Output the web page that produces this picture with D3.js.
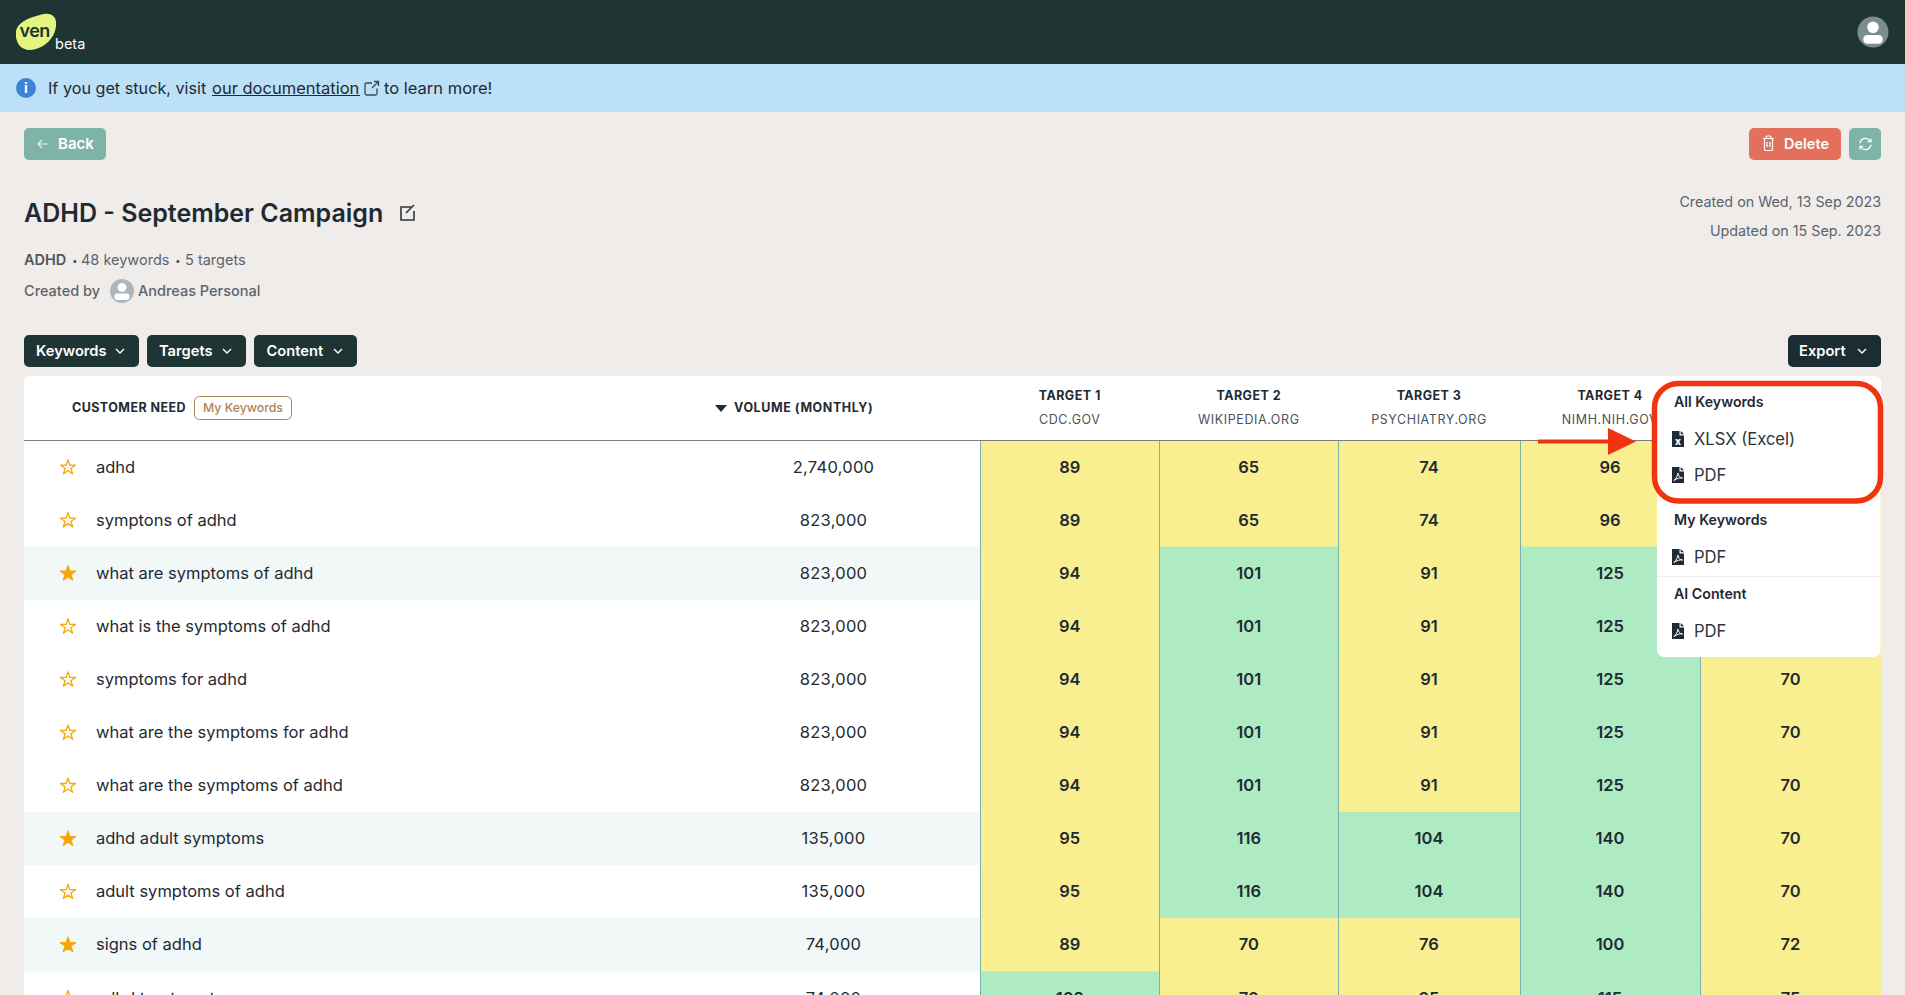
<!DOCTYPE html>
<html>
<head>
<meta charset="utf-8">
<script src="https://cdn.jsdelivr.net/npm/d3@7"></script>
<style>
  html, body { margin: 0; padding: 0; background: #f0ecea; overflow: hidden; }
  svg { display: block; }
  text { font-family: Inter, "Noto Sans", sans-serif; fill: #1f2a33; }
</style>
</head>
<body>
<div id="page"></div>
<script>
// table values
var keywords = ["adhd", "symptons of adhd", "what are symptoms of adhd", "what is the symptoms of adhd",
  "symptoms for adhd", "what are the symptoms for adhd", "what are the symptoms of adhd",
  "adhd adult symptoms", "adult symptoms of adhd", "signs of adhd", "adhd treatment"];
var volumes = [2740000, 823000, 823000, 823000, 823000, 823000, 823000, 135000, 135000, 74000, 74000];
var starred = [false, false, true, false, false, false, false, true, false, true, false];
var targets = ["TARGET 1", "TARGET 2", "TARGET 3", "TARGET 4", "TARGET 5"];
var domains = ["CDC.GOV", "WIKIPEDIA.ORG", "PSYCHIATRY.ORG", "NIMH.NIH.GOV", "HEALTHLINE.COM"];
var target1 = [89, 89, 94, 94, 94, 94, 94, 95, 95, 89, 102];
var target2 = [65, 65, 101, 101, 101, 101, 101, 116, 116, 70, 70];
var target3 = [74, 74, 91, 91, 91, 91, 91, 104, 104, 76, 85];
var target4 = [96, 96, 125, 125, 125, 125, 125, 140, 140, 100, 115];
var target5 = [70, 70, 70, 70, 70, 70, 70, 70, 70, 72, 75];
var scores = [target1, target2, target3, target4, target5];
var goodScore = 100;

var W = 1905, H = 995;
var svg = d3.select("#page").append("svg").attr("width", W).attr("height", H);

var x = d3.scaleLinear().domain(d3.range(6)).range([980, 1159.5, 1338, 1520, 1700, 1881]);
var y = d3.scaleBand().domain(keywords).range([440.5, 440.5 + 53.07 * keywords.length]);
var cellColor = d3.scaleThreshold().domain([goodScore]).range(["#f9ef90", "#aeebc2"]);

function label(parent, px, py, str, o) {
  o = o || {};
  return parent.append("text")
    .attr("x", px).attr("y", py)
    .attr("dy", "0.35em")
    .attr("text-anchor", o.anchor || "start")
    .style("font-size", (o.size || 15) + "px")
    .style("font-weight", o.weight || 400)
    .style("letter-spacing", o.spacing || null)
    .style("fill", o.color || "#1f2a33")
    .text(str);
}

function box(parent, bx, by, bw, bh, color, r) {
  return parent.append("rect").attr("x", bx).attr("y", by).attr("width", bw).attr("height", bh)
    .attr("rx", r === undefined ? 5 : r).attr("fill", color);
}

function chevron(px, py, color) {
  svg.append("path").attr("d", "M" + (px - 4) + "," + (py - 2) + "l4,4l4,-4")
    .attr("fill", "none").attr("stroke", color || "#fff").attr("stroke-width", 1.4);
}

function avatar(cx, cy, r, bg) {
  svg.append("circle").attr("cx", cx).attr("cy", cy).attr("r", r).attr("fill", bg);
  svg.append("circle").attr("cx", cx).attr("cy", cy - r * 0.3).attr("r", r * 0.37).attr("fill", "#fff");
  svg.append("rect").attr("x", cx - r * 0.63).attr("y", cy + r * 0.2).attr("width", r * 1.26).attr("height", r * 0.55)
    .attr("rx", r * 0.27).attr("fill", "#fff");
}

// top bar
box(svg, 0, 0, W, 64, "#1e3534", 0);
box(svg, 0, 64, W, 48, "#bbe0f7", 0);
svg.append("path")
  .attr("d", "M16,32C17,22 30,17 44,14C53,13 57,18 56,26C55,38 44,49 30,50C20,50 15,42 16,32Z")
  .attr("fill", "#e3f57f");
label(svg, 19.5, 31, "ven", { size: 18, weight: 600, color: "#1e3534", spacing: "-0.5px" });
label(svg, 55, 44, "beta", { size: 14.5, color: "#fff" });
avatar(1873, 32, 15.5, "#7b8d8d");

// info banner
svg.append("circle").attr("cx", 26).attr("cy", 88).attr("r", 10).attr("fill", "#3b84d8");
label(svg, 26, 88.5, "i", { size: 14, weight: 700, color: "#fff", anchor: "middle" });
label(svg, 48, 88, "If you get stuck, visit", { size: 16.2 });
label(svg, 212, 88, "our documentation", { size: 16.5 });
svg.append("line").attr("x1", 212).attr("x2", 360).attr("y1", 95.5).attr("y2", 95.5).attr("stroke", "#1f2a33").attr("stroke-width", 1);
svg.append("path").attr("d", "M372,83h-5.5a1.5,1.5 0 0 0 -1.5,1.5v9a1.5,1.5 0 0 0 1.5,1.5h9a1.5,1.5 0 0 0 1.5,-1.5v-5M372,88l6.5,-6.5M374,81.5h4.5v4.5")
  .attr("fill", "none").attr("stroke", "#3c474f").attr("stroke-width", 1.3);
label(svg, 384, 88, "to learn more!", { size: 16.5 });

// buttons
box(svg, 24, 128, 82, 32, "#7eb3a7");
svg.append("path").attr("d", "M48,144h-10m4,-4l-4,4l4,4").attr("fill", "none").attr("stroke", "#e8f2ef").attr("stroke-width", 1.2);
label(svg, 58, 144, "Back", { size: 15, weight: 600, color: "#fff" });
box(svg, 1749, 128, 92, 32, "#e2705b");
svg.append("path").attr("d", "M1763,138.5h11M1766,138.5v-1.5a1,1 0 0 1 1,-1h3a1,1 0 0 1 1,1v1.5M1764.5,138.5v11a1,1 0 0 0 1,1h6a1,1 0 0 0 1,-1v-11M1767,142v5M1770,142v5")
  .attr("fill", "none").attr("stroke", "#fff").attr("stroke-width", 1.2);
label(svg, 1784, 144, "Delete", { size: 14.5, weight: 600, color: "#fff" });
box(svg, 1849, 128, 32, 32, "#7eb3a7");
svg.append("path").attr("transform", "translate(1865.5,144) scale(0.78)")
  .attr("d", "M-7,-1a7,7 0 0 1 12,-4l2,2M7,-7v4h-4M7,1a7,7 0 0 1 -12,4l-2,-2M-7,7v-4h4")
  .attr("fill", "none").attr("stroke", "#fff").attr("stroke-width", 1.6);

// title block
label(svg, 24, 213, "ADHD - September Campaign", { size: 25, weight: 600 });
svg.append("path").attr("d", "M411,207h-10v13h13v-9M406,213l8,-8")
  .attr("fill", "none").attr("stroke", "#2c363e").attr("stroke-width", 1.6);
label(svg, 24, 260, "ADHD", { size: 14.5, weight: 600, color: "#4f575e" });
label(svg, 72, 260, "•", { size: 10, color: "#4f575e" });
label(svg, 81, 260, "48 keywords", { size: 14.5, color: "#5c646b" });
label(svg, 175, 260, "•", { size: 10, color: "#4f575e" });
label(svg, 185, 260, "5 targets", { size: 14.5, color: "#5c646b" });
label(svg, 24, 291, "Created by", { size: 14.5, weight: 500, color: "#5c646b" });
avatar(122, 291, 12, "#aeb6bd");
label(svg, 138, 291, "Andreas Personal", { size: 14.5, weight: 500, color: "#5c646b" });
label(svg, 1881, 202, "Created on Wed, 13 Sep 2023", { size: 14.3, color: "#5c646b", anchor: "end" });
label(svg, 1881, 231, "Updated on 15 Sep. 2023", { size: 14.3, color: "#5c646b", anchor: "end" });

// toolbar
var toolbar = [
  { name: "Keywords", x0: 24, x1: 139, tx: 36, cx: 120, bg: "#1e3534" },
  { name: "Targets", x0: 147, x1: 246, tx: 159, cx: 227, bg: "#1e3534" },
  { name: "Content", x0: 254, x1: 357, tx: 266.5, cx: 338, bg: "#1e3534" },
  { name: "Export", x0: 1788, x1: 1881, tx: 1799, cx: 1862, bg: "#1b2c33" }
];
toolbar.forEach(function (b) {
  box(svg, b.x0, 335, b.x1 - b.x0, 32, b.bg);
  label(svg, b.tx, 351, b.name, { size: 14.7, weight: 600, color: "#fff" });
  chevron(b.cx, 351);
});

// table card
var clip = svg.append("clipPath").attr("id", "card");
clip.append("rect").attr("x", 24).attr("y", 376).attr("width", 1857).attr("height", 700).attr("rx", 6);
var card = svg.append("g").attr("clip-path", "url(#card)");
box(card, 24, 376, 1857, 700, "#fff", 0);

label(card, 72, 408, "CUSTOMER NEED", { size: 12.5, weight: 700, spacing: "0.43px" });
card.append("rect").attr("x", 194.5).attr("y", 396.5).attr("width", 97).attr("height", 23).attr("rx", 5)
  .attr("fill", "#fff").attr("stroke", "#b08356");
label(card, 243, 408, "My Keywords", { size: 12.3, weight: 500, color: "#ae8351", anchor: "middle" });
card.append("path").attr("d", "M715,405h12l-6,7z").attr("fill", "#1f2a33");
label(card, 734, 408, "VOLUME (MONTHLY)", { size: 12.5, weight: 700, spacing: "0.57px" });

// target headers
targets.forEach(function (t, i) {
  var mid = (x(i) + x(i + 1)) / 2;
  label(card, mid, 396, t, { size: 12.5, weight: 700, spacing: "0.45px", anchor: "middle" });
  label(card, mid, 420, domains[i], { size: 12.5, spacing: "0.6px", color: "#4a535a", anchor: "middle" });
});

// rows
var rows = card.selectAll("g.row").data(keywords).join("g").attr("class", "row");
rows.append("rect")
  .attr("x", 24).attr("width", x(0) - 24)
  .attr("y", function (d) { return y(d); })
  .attr("height", y.bandwidth())
  .attr("fill", function (d, i) { return starred[i] ? "#f2f7f7" : "#fff"; });
rows.append("line")
  .attr("x1", 24).attr("x2", x(0))
  .attr("y1", function (d) { return Math.round(y(d) + y.bandwidth()) + 0.5; })
  .attr("y2", function (d) { return Math.round(y(d) + y.bandwidth()) + 0.5; })
  .attr("stroke", "#e9edf0");
var star = d3.symbol(d3.symbolStar, 70);
rows.append("path")
  .attr("d", star)
  .attr("transform", function (d) { return "translate(68," + (y(d) + y.bandwidth() / 2 + 0.5) + ")"; })
  .attr("fill", function (d, i) { return starred[i] ? "#f5a30a" : "#fff"; })
  .attr("stroke", "#f5a90a")
  .attr("stroke-width", 1.3)
  .attr("stroke-linejoin", "round");
rows.append("text")
  .attr("x", 96)
  .attr("y", function (d) { return y(d) + y.bandwidth() / 2; })
  .attr("dy", "0.35em")
  .style("font-size", "16.5px")
  .text(function (d) { return d; });
rows.append("text")
  .attr("x", 833.5)
  .attr("y", function (d) { return y(d) + y.bandwidth() / 2; })
  .attr("dy", "0.35em")
  .attr("text-anchor", "middle")
  .style("font-size", "16.5px")
  .style("letter-spacing", "0.25px")
  .text(function (d, i) { return d3.format(",")(volumes[i]); });

// score cells
scores.forEach(function (col, c) {
  var g = card.append("g");
  g.selectAll("rect").data(col).join("rect")
    .attr("x", x(c)).attr("width", x(c + 1) - x(c))
    .attr("y", function (d, i) { return y(keywords[i]); })
    .attr("height", y.bandwidth() + 0.5)
    .attr("fill", function (d) { return cellColor(d); });
  g.selectAll("text").data(col).join("text")
    .attr("x", (x(c) + x(c + 1)) / 2)
    .attr("y", function (d, i) { return y(keywords[i]) + y.bandwidth() / 2; })
    .attr("dy", "0.35em")
    .attr("text-anchor", "middle")
    .style("font-size", "16.5px")
    .style("font-weight", 600)
    .text(function (d) { return d; });
});
card.selectAll("line.edge").data(d3.range(6)).join("line")
  .attr("class", "edge")
  .attr("x1", function (d) { return Math.floor(x(d)) + 0.5; })
  .attr("x2", function (d) { return Math.floor(x(d)) + 0.5; })
  .attr("y1", 440.5).attr("y2", H)
  .attr("stroke", "#79b0ae");
card.append("line").attr("x1", 24).attr("x2", 1881).attr("y1", 440.5).attr("y2", 440.5).attr("stroke", "#7a7f85").attr("stroke-width", 1);

// export dropdown
box(svg, 1657, 376, 223.5, 281, "#fff", 7);
svg.append("line").attr("x1", 1657).attr("x2", 1880).attr("y1", 576.5).attr("y2", 576.5).attr("stroke", "#eceef0");

function fileIcon(py, isExcel) {
  var g = svg.append("g").attr("transform", "translate(1672," + (py - 8) + ")");
  g.append("path").attr("d", "M0,0h7.5v4.5h4.5v11.5h-12zM8.7,0l3.3,3.3h-3.3z").attr("fill", "#1f2a33");
  if (isExcel) {
    label(g, 6, 10, "x", { size: 10, weight: 800, color: "#fff", anchor: "middle" });
  } else {
    g.append("path").attr("d", "M2,13.5C4.5,11 6,8 5.8,6C6.5,9 8,11 10.5,11C8,10.5 4.5,11.5 2,13.5Z")
      .attr("fill", "none").attr("stroke", "#fff").attr("stroke-width", 1);
  }
}
[["All Keywords", 402], ["My Keywords", 520], ["AI Content", 594]].forEach(function (h) {
  label(svg, 1674, h[1], h[0], { size: 14.2, weight: 600 });
});
[["XLSX (Excel)", 439, true], ["PDF", 475, false], ["PDF", 557, false], ["PDF", 631, false]].forEach(function (m) {
  fileIcon(m[1], m[2]);
  label(svg, 1694, m[1], m[0], { size: 16.6, color: "#2c363e" });
});

// red annotation
svg.append("rect").attr("x", 1654.5).attr("y", 383.5).attr("width", 226).attr("height", 117.5).attr("rx", 24)
  .attr("fill", "none").attr("stroke", "#f0340f").attr("stroke-width", 5.5);
svg.append("path").attr("d", "M1538,439.5h70v-11.5l28,13.5l-28,13.5v-11.5h-70z").attr("fill", "#f0340f");
</script>
</body>
</html>
